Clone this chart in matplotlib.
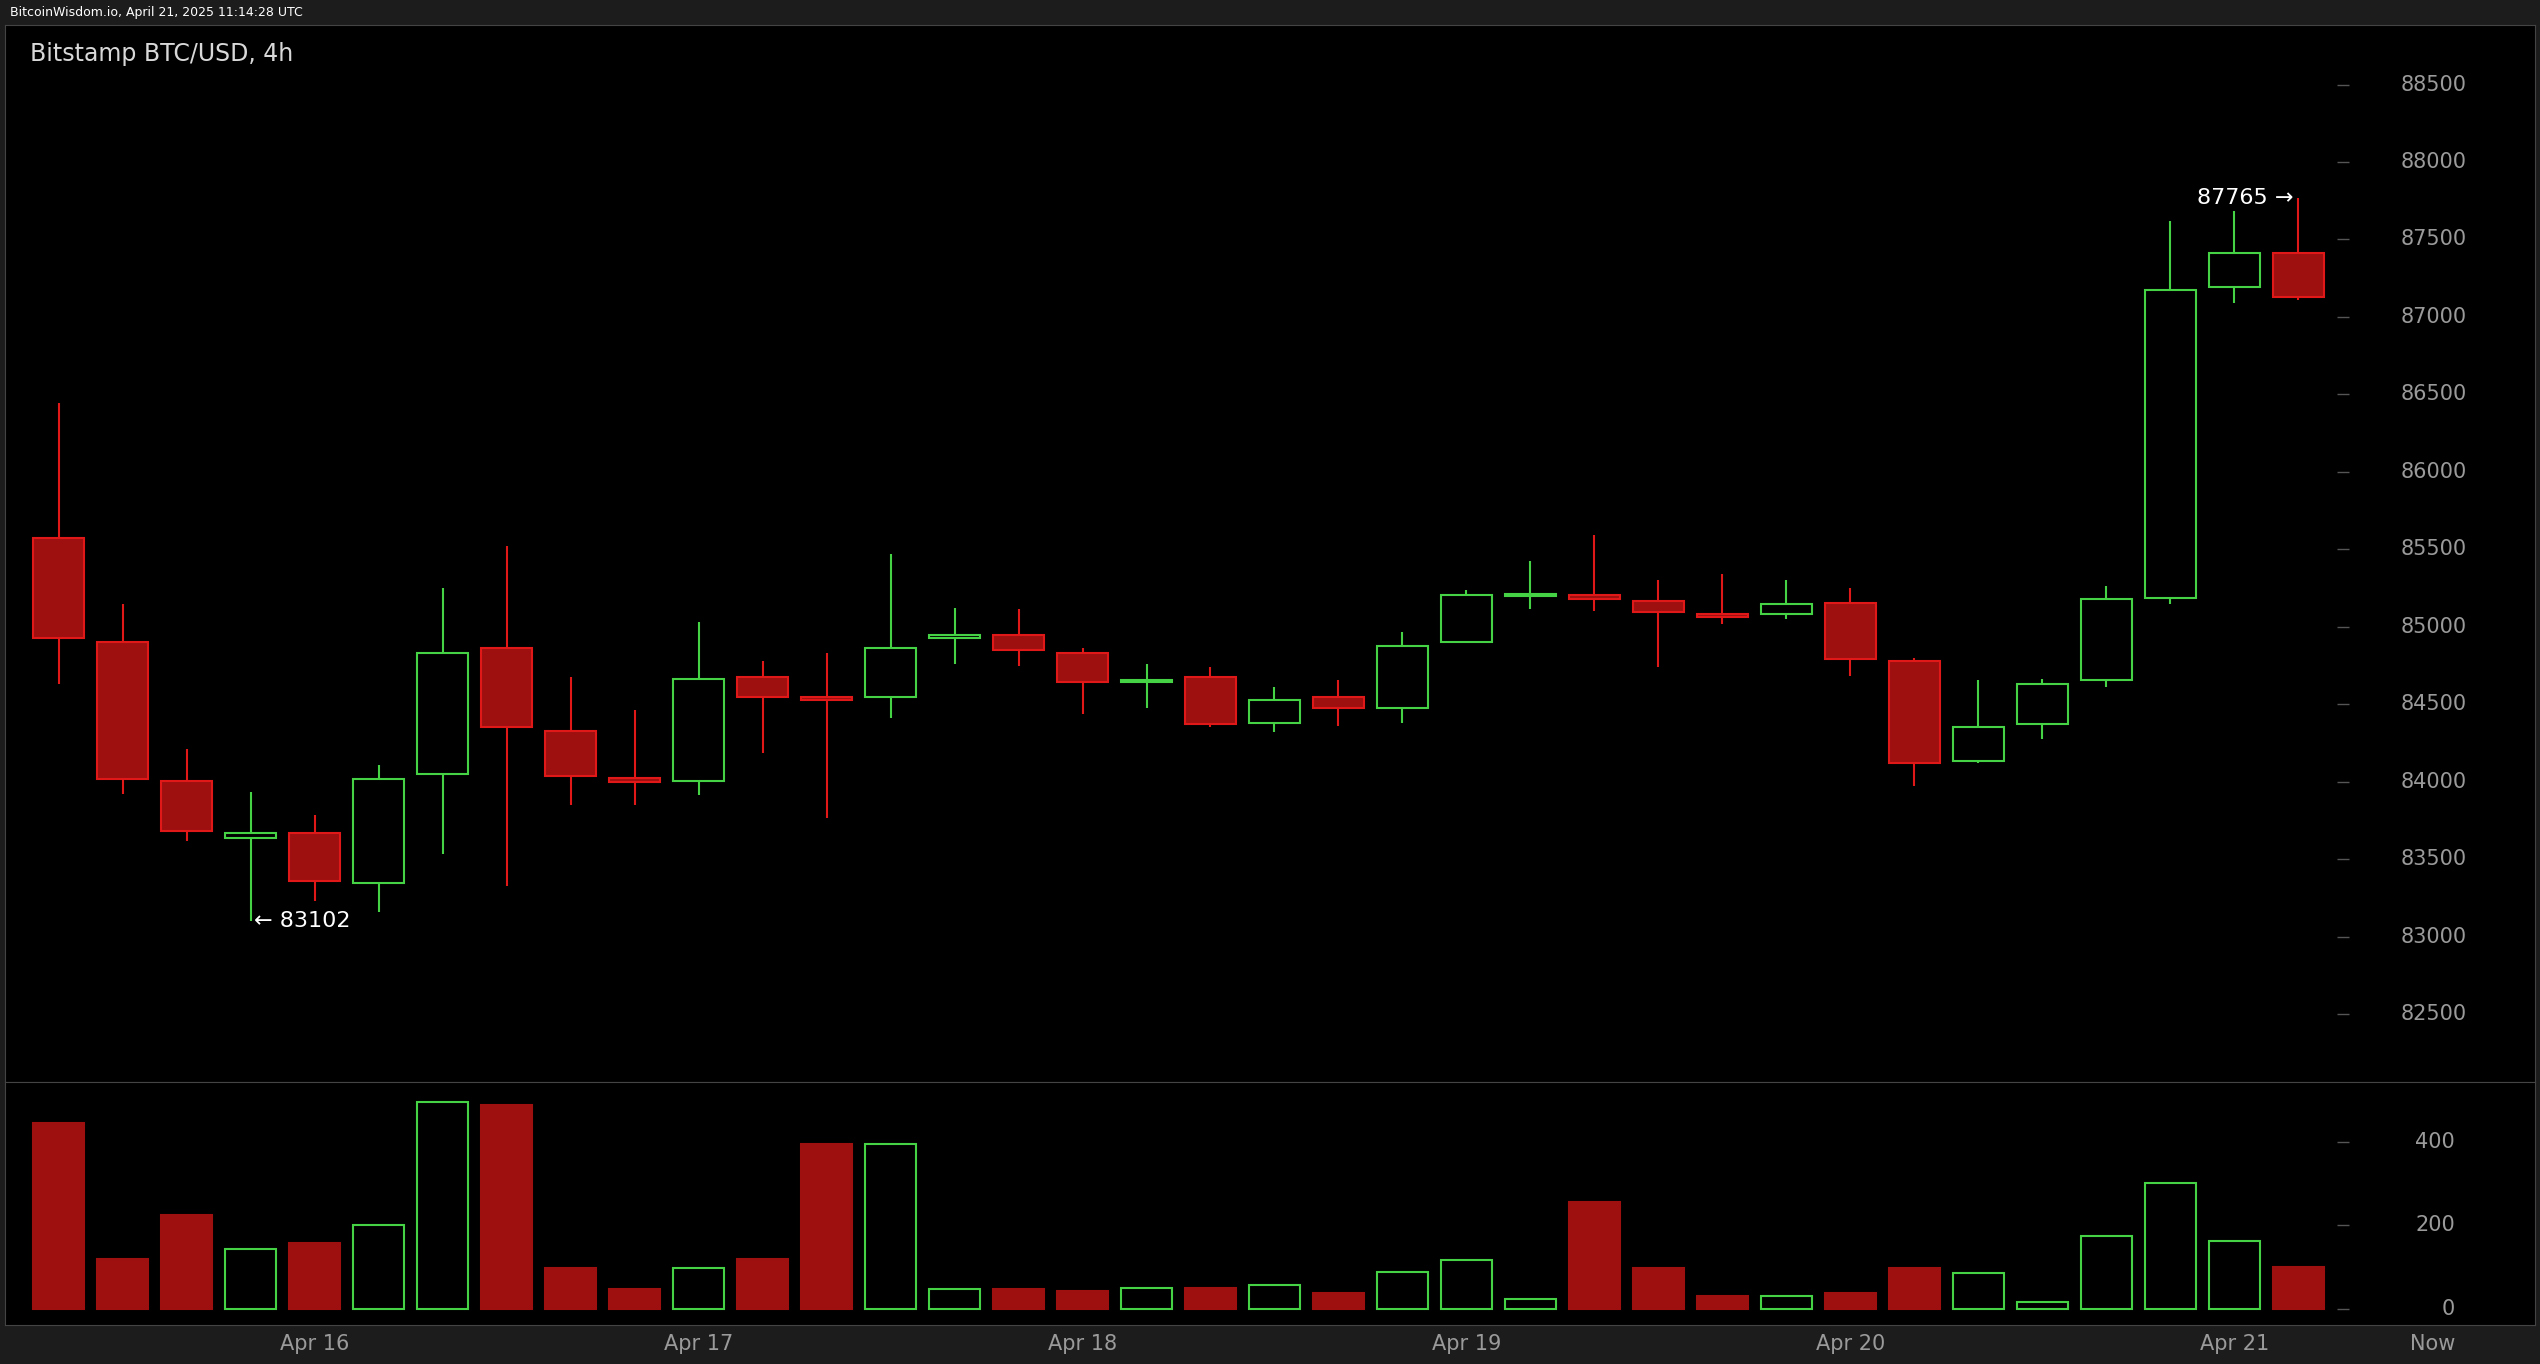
import numpy as np
import matplotlib.pyplot as plt
from matplotlib.patches import Rectangle

# 4h candles, Apr 15 08:00 .. Apr 21 08:00
opens = [85573, 84904, 84005, 83639, 83671, 83347, 84047, 84862, 84329, 84026,
         84005, 84674, 84549, 84549, 84925, 84946, 84831, 84643, 84674, 84381,
         84549, 84476, 84904, 85197, 85207, 85166, 85082, 85082, 85155, 84779,
         84131, 84371, 84653, 85186, 87193, 87413]
closes = [84925, 84016, 83681, 83671, 83357, 84016, 84831, 84350, 84037, 83995,
          84664, 84549, 84528, 84862, 84946, 84852, 84643, 84653, 84371, 84528,
          84476, 84873, 85207, 85207, 85176, 85092, 85061, 85145, 84789, 84120,
          84350, 84632, 85176, 87172, 87413, 87131]
highs = [86441, 85145, 84214, 83932, 83786, 84110, 85249, 85521, 84674, 84465,
         85030, 84779, 84831, 85469, 85124, 85113, 84862, 84758, 84737, 84611,
         84653, 84967, 85239, 85427, 85594, 85301, 85343, 85301, 85249, 84800,
         84653, 84664, 85260, 87622, 87685, 87765]
lows = [84632, 83922, 83619, 83102, 83232, 83158, 83535, 83326, 83849, 83849,
        83911, 84183, 83765, 84413, 84758, 84747, 84434, 84476, 84350, 84319,
        84361, 84381, 84894, 85113, 85103, 84737, 85019, 85050, 84685, 83974,
        84120, 84277, 84611, 85145, 87089, 87110]
volumes = [447, 120, 225, 144, 159, 202, 497, 489, 97, 47, 97, 120, 396, 396,
           47, 47, 43, 50, 50, 58, 39, 89, 117, 23, 256, 97, 31, 31, 39, 97,
           85, 16, 175, 303, 163, 101]

day_labels = ["Apr 16", "Apr 17", "Apr 18", "Apr 19", "Apr 20", "Apr 21"]
day_index = [4, 10, 16, 22, 28, 34]
price_ticks = [82500, 83000, 83500, 84000, 84500, 85000, 85500, 86000,
               86500, 87000, 87500, 88000, 88500]
vol_ticks = [0, 200, 400]

RED_FILL = "#9e1010"
RED_EDGE = "#e01818"
GREEN = "#45d245"
GRAY = "#9a9a9a"

fig = plt.figure(figsize=(25.4, 13.64), dpi=100, facecolor="#1c1c1c")
ax = fig.add_axes([0.002, 0.2067, 0.996, 0.7753], facecolor="black")
axv = fig.add_axes([0.002, 0.0285, 0.996, 0.1782], facecolor="black")

xmin, xmax = -0.84, 38.7
w = 0.8
for i in range(len(opens)):
    o, c, h, l = opens[i], closes[i], highs[i], lows[i]
    up = c >= o
    col = GREEN if up else RED_EDGE
    ax.vlines(i, l, h, color=col, lw=1.5, zorder=1)
    bot, top = min(o, c), max(o, c)
    hgt = max(top - bot, 12)
    ax.add_patch(Rectangle((i - w / 2, bot), w, hgt,
                           facecolor="black" if up else RED_FILL,
                           edgecolor=col, lw=1.5, zorder=2))
    axv.add_patch(Rectangle((i - w / 2, 0), w, volumes[i],
                            facecolor="black" if up else RED_FILL,
                            edgecolor=GREEN if up else RED_FILL, lw=1.5))

ax.set_xlim(xmin, xmax)
ax.set_ylim(82061, 88887)
axv.set_xlim(xmin, xmax)
axv.set_ylim(-39, 544)

for a in (ax, axv):
    a.set_xticks([])
    a.set_yticks([])
    for s in a.spines.values():
        s.set_color("#444444")

for p in price_ticks:
    ax.hlines(p, 35.6, 35.8, color="#555555", lw=1)
    ax.text(36.6, p, str(p), color=GRAY, fontsize=15, va="center", ha="left")
for v in vol_ticks:
    axv.hlines(v, 35.6, 35.8, color="#555555", lw=1)
    axv.text(37.45, v, str(v), color=GRAY, fontsize=15, va="center", ha="right")

for lab, idx in zip(day_labels, day_index):
    axv.text(idx, -60, lab, color=GRAY, fontsize=15, ha="center", va="top")
axv.text(37.1, -60, "Now", color=GRAY, fontsize=15, ha="center", va="top")

ax.text(-0.45, 88700, "Bitstamp BTC/USD, 4h", color="#d8d8d8", fontsize=17,
        va="center", ha="left")

hi_i = int(np.argmax(highs))
lo_i = int(np.argmin(lows))
ax.text(hi_i - 0.08, highs[hi_i], f"{highs[hi_i]} \u2192", color="white",
        fontsize=16, ha="right", va="center")
ax.text(lo_i + 0.05, lows[lo_i], f"\u2190 {lows[lo_i]}", color="white",
        fontsize=16, ha="left", va="center")

fig.text(0.004, 0.991, "BitcoinWisdom.io, April 21, 2025 11:14:28 UTC",
         color="white", fontsize=9, va="center", ha="left")

fig.savefig("out.png", dpi=100, facecolor=fig.get_facecolor())
